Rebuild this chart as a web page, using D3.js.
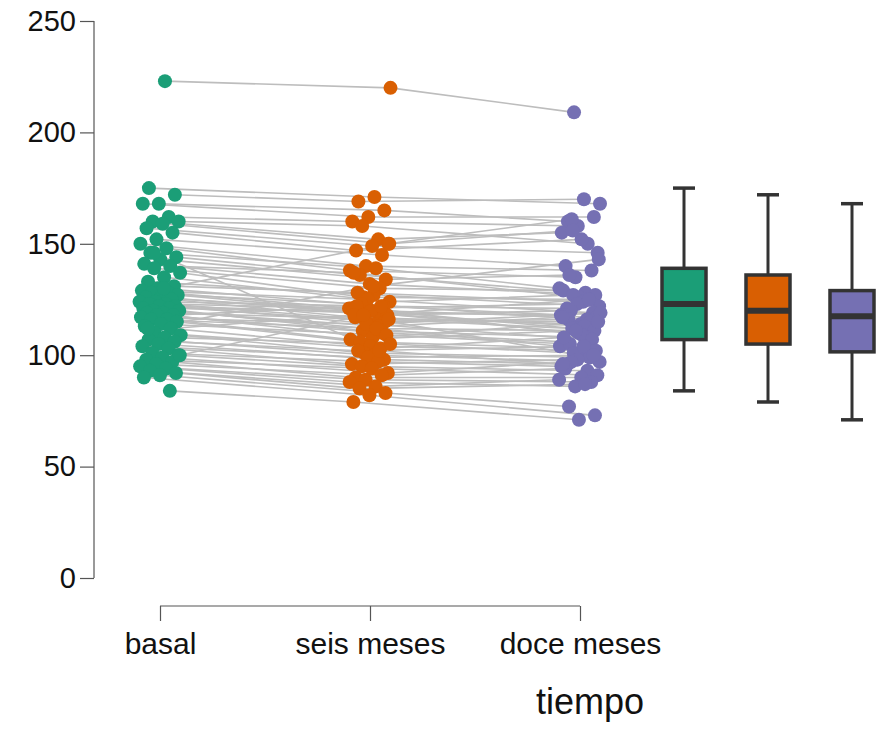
<!DOCTYPE html>
<html>
<head>
<meta charset="utf-8">
<script src="https://cdn.jsdelivr.net/npm/d3@7"></script>
<style>
  html, body { margin: 0; padding: 0; background: #fff; }
  svg { display: block; font-family: "Liberation Sans", Arial, sans-serif; }
</style>
</head>
<body>
<div id="chart"></div>
<script>
// categorías del eje x
const tiempos = ['basal', 'seis meses', 'doce meses'];
const colores = ['#1b9e77', '#d95f02', '#7570b3'];

// valores por sujeto (aproximados)
const basal = [223, 175, 172, 168, 168, 162, 160, 160, 159, 157, 155, 152, 150, 148, 146, 144, 143, 141, 140, 139,
  137, 135, 133, 131, 130, 129, 128, 128, 127, 126, 126, 125, 124, 124, 123, 123, 122, 122, 121, 121,
  120, 120, 119, 119, 118, 118, 117, 116, 116, 115, 114, 113, 112, 110, 109, 108, 107, 106, 105, 104,
  103, 101, 100, 99, 98, 97, 96, 95, 94, 93, 92, 91, 90, 84, 146, 100, 130, 112];
const seisMeses = [220, 171, 169, 165, 162, 160, 152, 158, 150, 149, 147, 145, 140, 138, 139, 136, 134, 132, 137, 130,
  126, 124, 127, 128, 122, 125, 121, 119, 123, 118, 120, 117, 122, 116, 121, 114, 119, 115, 112, 120,
  113, 111, 116, 108, 122, 110, 114, 107, 112, 106, 109, 104, 118, 103, 101, 105, 100, 102, 98, 99,
  96, 97, 95, 92, 94, 90, 91, 89, 88, 86, 85, 83, 82, 79, 102, 118, 150, 131];
const doceMeses = [209, 168, 170, 160, 162, 158, 155, 150, 161, 146, 152, 140, 138, 135, 130, 128, 136, 127, 126, 129,
  125, 127, 122, 124, 121, 119, 123, 118, 116, 120, 117, 114, 118, 115, 112, 119, 113, 116, 111, 110,
  117, 108, 112, 115, 109, 106, 107, 111, 104, 103, 105, 102, 100, 108, 99, 101, 97, 104, 96, 100,
  98, 95, 93, 97, 91, 90, 94, 88, 86, 89, 87, 77, 73, 71, 96, 125, 156, 143];

// estadísticos de las cajas (sin atípicos): [mín, Q1, mediana, Q3, máx]
const cajaMin = [84, 79, 71];
const cajaQ1 = [107, 105, 101.5];
const cajaMediana = [123, 120, 117.5];
const cajaQ3 = [139, 136, 129];
const cajaMax = [175, 172, 168];

const yTicks = [0, 50, 100, 150, 200, 250];

const W = 877, H = 729;
const svg = d3.select('#chart').append('svg').attr('width', W).attr('height', H);

const y = d3.scaleLinear().domain([0, 250]).range([578, 21]);
const x = d3.scalePoint().domain(tiempos).range([160, 580]);
const xCaja = d3.scalePoint().domain(tiempos).range([684, 852]);

// jitter horizontal determinista
const series = [basal, seisMeses, doceMeses];
const jit = (i, k) => {
  const f = ((i + 1) * 0.6180339887 + k * 0.37) % 1;
  return (f - 0.5) * 42;
};
const px = (i, k) => x(tiempos[k]) + jit(i, k);

// eje y
const ay = svg.append('g')
  .attr('transform', 'translate(94,0)')
  .call(d3.axisLeft(y).tickValues(yTicks).tickSize(14).tickPadding(4));
ay.select('.domain').attr('stroke', '#555').attr('stroke-width', 1.2).attr('d', `M0,${y(250)}V${y(0)}`);
ay.selectAll('.tick line').attr('stroke', '#555').attr('stroke-width', 1.2);
ay.selectAll('.tick text').attr('fill', '#111').attr('font-size', 29).attr('font-family', '"Liberation Sans", Arial, sans-serif');

// eje x
const ax = svg.append('g')
  .attr('transform', 'translate(0,606)')
  .call(d3.axisBottom(x).tickSizeInner(15).tickSizeOuter(0).tickPadding(12));
ax.select('.domain').attr('stroke', '#555').attr('stroke-width', 1.2).attr('d', `M${x('basal')},0H${x('doce meses')}`);
ax.selectAll('.tick line').attr('stroke', '#555').attr('stroke-width', 1.2);
ax.selectAll('.tick text').attr('fill', '#111').attr('font-size', 30).attr('font-family', '"Liberation Sans", Arial, sans-serif');

svg.append('text')
  .attr('x', 590).attr('y', 714)
  .attr('text-anchor', 'middle')
  .attr('font-size', 36)
  .attr('fill', '#111')
  .text('tiempo');

// líneas por sujeto
const linea = d3.line();
svg.append('g').selectAll('path')
  .data(basal.map((_, i) => i))
  .join('path')
  .attr('d', i => linea(series.map((s, k) => [px(i, k), y(s[i])])))
  .attr('fill', 'none')
  .attr('stroke', '#bdbdbd')
  .attr('stroke-width', 1.6);

// puntos
series.forEach((s, k) => {
  svg.append('g').selectAll('circle')
    .data(s)
    .join('circle')
    .attr('cx', (d, i) => px(i, k))
    .attr('cy', d => y(d))
    .attr('r', 7)
    .attr('fill', colores[k]);
});

// diagramas de caja
const bw = 44, cap = 22;
const gb = svg.append('g');
tiempos.forEach((t, k) => {
  const cx = xCaja(t);
  gb.append('line').attr('x1', cx).attr('x2', cx).attr('y1', y(cajaMax[k])).attr('y2', y(cajaQ3[k]))
    .attr('stroke', '#333').attr('stroke-width', 3);
  gb.append('line').attr('x1', cx).attr('x2', cx).attr('y1', y(cajaQ1[k])).attr('y2', y(cajaMin[k]))
    .attr('stroke', '#333').attr('stroke-width', 3);
  gb.append('line').attr('x1', cx - cap / 2).attr('x2', cx + cap / 2).attr('y1', y(cajaMax[k])).attr('y2', y(cajaMax[k]))
    .attr('stroke', '#333').attr('stroke-width', 3.5);
  gb.append('line').attr('x1', cx - cap / 2).attr('x2', cx + cap / 2).attr('y1', y(cajaMin[k])).attr('y2', y(cajaMin[k]))
    .attr('stroke', '#333').attr('stroke-width', 3.5);
  gb.append('rect')
    .attr('x', cx - bw / 2).attr('y', y(cajaQ3[k]))
    .attr('width', bw).attr('height', y(cajaQ1[k]) - y(cajaQ3[k]))
    .attr('fill', colores[k]).attr('stroke', '#333').attr('stroke-width', 3.5);
  gb.append('line').attr('x1', cx - bw / 2).attr('x2', cx + bw / 2).attr('y1', y(cajaMediana[k])).attr('y2', y(cajaMediana[k]))
    .attr('stroke', '#333').attr('stroke-width', 6);
});
</script>
</body>
</html>
